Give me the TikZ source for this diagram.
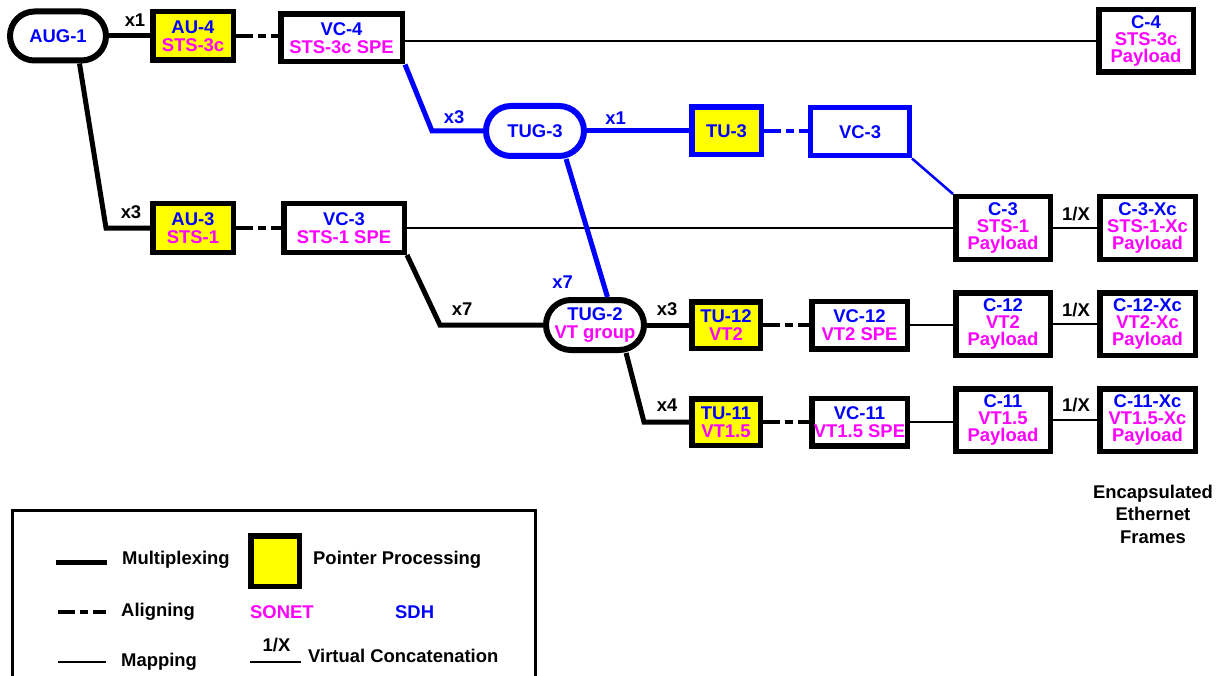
\documentclass[tikz,border=0pt]{standalone}
\usepackage{fontspec}
\setmainfont{Liberation Sans}
\definecolor{sdh}{RGB}{0,0,255}
\definecolor{sonet}{RGB}{255,0,255}
\definecolor{ptr}{RGB}{255,255,0}
\newcommand{\SDHt}[1]{\textcolor{sdh}{#1}}
\newcommand{\SONt}[1]{\textcolor{sonet}{#1}}
\pgfdeclarelayer{bg}
\pgfsetlayers{bg,main}
\begin{document}
\begin{tikzpicture}[x=1bp,y=-1bp,
  lbl/.style={font=\fontsize{18.5}{16.8}\selectfont\bfseries, inner sep=0pt, align=center},
  two/.style={font=\fontsize{18.5}{18.5}\selectfont\bfseries},
  box/.style={lbl, draw=black, line width=5.5bp, fill=white},
  ptrbox/.style={box, fill=ptr},
  pill/.style={lbl, draw=black, line width=6bp, fill=white, rounded corners=25bp},
  muxline/.style={line width=5bp, line join=miter},
  alignline/.style={line width=4.5bp, dash pattern=on 17bp off 5bp on 8bp off 5bp},
  mapline/.style={line width=2.5bp}
]
\useasboundingbox (0,0) rectangle (1219,676);

% row 1
\node[pill, minimum width=96bp, minimum height=49bp, rounded corners=24.5bp] (aug) at (58,36) {\SDHt{AUG-1}};
\node[ptrbox, two, minimum width=80.5bp, minimum height=48.5bp] (au4) at (193,36) {\SDHt{AU-4}\\\SONt{STS-3c}};
\node[box, two, minimum width=121.5bp, minimum height=47.5bp] (vc4) at (341.5,38) {\SDHt{VC-4}\\\SONt{STS-3c SPE}};
\node[box, minimum width=94.5bp, minimum height=62.5bp] (c4) at (1146,41) {\SDHt{C-4}\\\SONt{STS-3c}\\\SONt{Payload}};

% TUG-3 row
\node[pill, draw=sdh, minimum width=98bp, minimum height=50bp] (tug3) at (535,131) {\SDHt{TUG-3}};
\node[ptrbox, draw=sdh, minimum width=69.5bp, minimum height=47.5bp] (tu3) at (726.5,131) {\SDHt{TU-3}};
\node[box, draw=sdh, line width=5bp, minimum width=99bp, minimum height=48bp] (vc3b) at (860,132) {\SDHt{VC-3}};

% AU-3 row
\node[ptrbox, two, minimum width=80.5bp, minimum height=48.5bp] (au3) at (193,228) {\SDHt{AU-3}\\\SONt{STS-1}};
\node[box, two, minimum width=120.5bp, minimum height=48.5bp] (vc3s) at (344,228) {\SDHt{VC-3}\\\SONt{STS-1 SPE}};
\node[box, minimum width=94.5bp, minimum height=62.5bp] (c3) at (1003,228) {\SDHt{C-3}\\\SONt{STS-1}\\\SONt{Payload}};
\node[box, minimum width=95.5bp, minimum height=62.5bp] (c3x) at (1147.5,228) {\SDHt{C-3-Xc}\\\SONt{STS-1-Xc}\\\SONt{Payload}};

% TUG-2 row
\node[pill, two, minimum width=98bp, minimum height=50bp] (tug2) at (595,325) {\SDHt{TUG-2}\\\SONt{VT group}};
\node[ptrbox, two, minimum width=68.5bp, minimum height=46.5bp] (tu12) at (726,325) {\SDHt{TU-12}\\\SONt{VT2}};
\node[box, two, minimum width=95.5bp, minimum height=47.5bp] (vc12) at (859.5,325) {\SDHt{VC-12}\\\SONt{VT2 SPE}};
\node[box, minimum width=94.5bp, minimum height=62.5bp] (c12) at (1003,324) {\SDHt{C-12}\\\SONt{VT2}\\\SONt{Payload}};
\node[box, minimum width=95.5bp, minimum height=62.5bp] (c12x) at (1147.5,324) {\SDHt{C-12-Xc}\\\SONt{VT2-Xc}\\\SONt{Payload}};

% TU-11 row
\node[ptrbox, two, minimum width=68.5bp, minimum height=46.5bp] (tu11) at (726,422) {\SDHt{TU-11}\\\SONt{VT1.5}};
\node[box, two, minimum width=95.5bp, minimum height=47.5bp] (vc11) at (859.5,422) {\SDHt{VC-11}\\\SONt{VT1.5 SPE}};
\node[box, minimum width=94.5bp, minimum height=62.5bp] (c11) at (1003,420) {\SDHt{C-11}\\\SONt{VT1.5}\\\SONt{Payload}};
\node[box, minimum width=95.5bp, minimum height=62.5bp] (c11x) at (1147.5,420) {\SDHt{C-11-Xc}\\\SONt{VT1.5-Xc}\\\SONt{Payload}};

% bends
\coordinate (b1) at (106,228);
\coordinate (b2) at (432,131);
\coordinate (b3) at (440,325);
\coordinate (b4) at (644,422);

\begin{pgfonlayer}{bg}
\draw[muxline] (aug.east) -- (au4.west);
\draw[alignline] (au4.east) -- (au4.east -| vc4.west);
\draw[mapline] (vc4.east |- c4.west) -- (c4.west);
\draw[muxline] (aug.-52) -- (b1) -- (au3.west);
\draw[alignline] (au3.east) -- (vc3s.west);
\draw[mapline] (vc3s.east) -- (c3.west);
\draw[mapline] (c3.east) -- (c3x.west);
\draw[muxline, sdh] (vc4.south east) -- (b2) -- (tug3.west);
\draw[muxline, sdh] (tug3.east) -- (tu3.west);
\draw[alignline, sdh] (tu3.east) -- (tu3.east -| vc3b.west);
\draw[line width=2.5bp, sdh] (vc3b.south east) -- (c3.north west);
\draw[muxline] (vc3s.south east) -- (b3) -- (tug2.west);
\draw[muxline] (tug2.east) -- (tu12.west);
\draw[alignline] (tu12.east) -- (vc12.west);
\draw[mapline] (vc12.east) -- (vc12.east -| c12.west);
\draw[mapline] (c12.east) -- (c12x.west);
\draw[muxline] (tug2.-42) -- (b4) -- (tu11.west);
\draw[alignline] (tu11.east) -- (vc11.west);
\draw[mapline] (vc11.east) -- (vc11.east -| c11.west);
\draw[mapline] (c11.east) -- (c11x.west);
\end{pgfonlayer}
\draw[muxline, sdh] (tug3.-42) -- (tug2.66);

% multiplicity labels
\node[lbl] (m1) at (135,20) {x1};
\node[lbl] (m2) at (131,212) {x3};
\node[lbl, text=sdh] (m3) at (454,117) {x3};
\node[lbl, text=sdh] (m4) at (615.5,118) {x1};
\node[lbl, text=sdh] (m5) at (562.5,282) {x7};
\node[lbl] (m6) at (462,309) {x7};
\node[lbl] (m7) at (667,309) {x3};
\node[lbl] (m8) at (667,405) {x4};
\node[lbl] (v1) at (1076,214) {1/X};
\node[lbl] (v2) at (1076,310) {1/X};
\node[lbl] (v3) at (1076,405) {1/X};

\node[lbl, font=\fontsize{18.5}{22.5}\selectfont\bfseries] (enc) at (1153,514) {Encapsulated\\Ethernet\\Frames};

% legend
\draw[line width=3bp] (12,510) rectangle (535,700);
\coordinate (l1a) at (56,562); \coordinate (l1b) at (107,562);
\draw[muxline] (l1a) -- (l1b);
\node[lbl, anchor=west] (t1) at (122,560) {Multiplexing};
\node[ptrbox, minimum width=48.5bp, minimum height=50.5bp] (lp) at (275,561) {};
\node[lbl, anchor=west] (t2) at (313,560) {Pointer Processing};
\coordinate (l2a) at (58,612); \coordinate (l2b) at (106,612);
\draw[alignline] (l2a) -- (l2b);
\node[lbl, anchor=west] (t3) at (121,612) {Aligning};
\node[lbl, anchor=west, text=sonet] (t4) at (250,612) {SONET};
\node[lbl, anchor=west, text=sdh] (t5) at (395,612) {SDH};
\coordinate (l3a) at (58,662); \coordinate (l3b) at (106,662);
\draw[mapline] (l3a) -- (l3b);
\node[lbl, anchor=west] (t6) at (121,662) {Mapping};
\node[lbl] (t7) at (276.5,645) {1/X};
\coordinate (l4a) at (250,662); \coordinate (l4b) at (301,662);
\draw[mapline] (l4a) -- (l4b);
\node[lbl, anchor=west] (t8) at (308,656) {Virtual Concatenation};
\end{tikzpicture}
\end{document}
